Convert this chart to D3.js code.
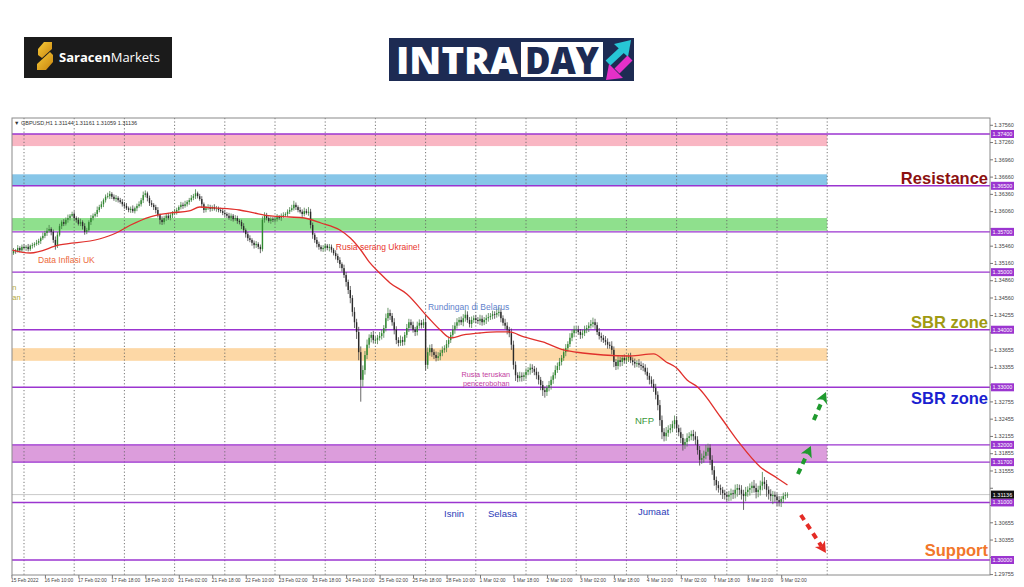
<!DOCTYPE html>
<html><head><meta charset="utf-8">
<script src="https://cdn.jsdelivr.net/npm/d3@7/dist/d3.min.js"></script>
<style>body{margin:0;background:#fff}svg{display:block}</style>
</head><body>
<svg id="c" width="1024" height="587"></svg>
<script>
// ---------------- DATA ----------------
const symbolHeader = "\u25BC GBPUSD,H1  1.31144 1.31161 1.31059 1.31136";
const firstOpen = 1.3530;
// H1 closes, 15 Feb 18:00 .. 9 Mar 05:00
const closes = [
1.3533,1.3538,1.3537,1.3542,1.3538,1.3544,
1.3542,1.3544,1.3540,1.3546,1.3547,1.3549,1.3551,1.3554,1.3559,1.3563,1.3568,1.3572,1.3575,1.3570,1.3556,1.3546,1.3565,1.3580,1.3587,1.3584,1.3591,1.3594,1.3598,1.3601,
1.3594,1.3591,1.3584,1.3587,1.3580,1.3570,1.3573,1.3587,1.3594,1.3598,1.3601,1.3608,1.3613,1.3618,1.3625,1.3631,1.3632,1.3636,1.3631,1.3627,1.3629,1.3625,1.3622,1.3618,
1.3615,1.3611,1.3608,1.3610,1.3606,1.3611,1.3615,1.3618,1.3625,1.3634,1.3637,1.3629,1.3620,1.3617,1.3613,1.3608,1.3599,1.3591,1.3587,1.3594,1.3598,1.3594,1.3599,1.3603,
1.3605,1.3608,1.3613,1.3617,1.3615,1.3618,1.3622,1.3625,1.3629,1.3632,1.3637,1.3632,1.3627,1.3618,1.3608,1.3611,1.3613,1.3610,1.3613,1.3610,1.3611,1.3608,1.3606,1.3603,
1.3601,1.3598,1.3594,1.3598,1.3592,1.3594,1.3589,1.3587,1.3580,1.3573,1.3566,1.3559,1.3556,1.3551,1.3547,1.3549,1.3544,1.3540,1.3591,1.3599,1.3594,1.3589,1.3592,1.3591,
1.3592,1.3596,1.3594,1.3598,1.3599,1.3601,1.3605,1.3608,1.3611,1.3617,1.3613,1.3608,1.3605,1.3601,1.3606,1.3603,1.3605,1.3582,1.3565,1.3556,1.3549,1.3544,1.3540,1.3542,
1.3546,1.3542,1.3544,1.3539,1.3533,1.3528,1.3521,1.3514,1.3507,1.3495,1.3483,1.3469,1.3455,1.3431,1.3413,1.3396,1.3361,1.3313,1.3330,1.3356,1.3374,1.3386,1.3391,1.3382,
1.3382,1.3386,1.3389,1.3394,1.3403,1.3420,1.3429,1.3424,1.3413,1.3400,1.3382,1.3377,1.3382,1.3379,1.3391,1.3403,1.3413,1.3408,1.3400,1.3396,1.3407,1.3412,1.3408,1.3413,
1.3339,1.3361,1.3368,1.3361,1.3356,1.3351,1.3354,1.3360,1.3365,1.3368,1.3375,1.3382,1.3391,1.3400,1.3407,1.3413,1.3417,1.3413,1.3420,1.3426,1.3417,1.3410,1.3417,1.3420,
1.3417,1.3415,1.3419,1.3413,1.3417,1.3420,1.3422,1.3424,1.3427,1.3426,1.3429,1.3431,1.3420,1.3412,1.3407,1.3400,1.3394,1.3374,1.3339,1.3321,1.3316,1.3320,1.3318,1.3321,
1.3327,1.3330,1.3334,1.3332,1.3327,1.3321,1.3313,1.3304,1.3295,1.3292,1.3299,1.3304,1.3313,1.3321,1.3330,1.3337,1.3344,1.3351,1.3361,1.3368,1.3375,1.3386,1.3394,1.3400,
1.3400,1.3396,1.3391,1.3394,1.3400,1.3403,1.3407,1.3410,1.3413,1.3408,1.3396,1.3389,1.3386,1.3382,1.3379,1.3374,1.3372,1.3365,1.3344,1.3337,1.3347,1.3344,1.3351,1.3347,
1.3351,1.3353,1.3347,1.3344,1.3341,1.3342,1.3339,1.3337,1.3334,1.3327,1.3320,1.3313,1.3306,1.3299,1.3287,1.3269,1.3243,1.3222,1.3215,1.3221,1.3226,1.3229,1.3236,1.3243,
1.3229,1.3222,1.3212,1.3200,1.3205,1.3212,1.3215,1.3219,1.3215,1.3209,1.3191,1.3174,1.3177,1.3181,1.3188,1.3195,1.3174,1.3156,1.3139,1.3130,1.3125,1.3122,1.3116,1.3113,
1.3110,1.3113,1.3116,1.3115,1.3122,1.3125,1.3122,1.3115,1.3111,1.3118,1.3122,1.3125,1.3129,1.3125,1.3118,1.3122,1.3129,1.3136,1.3132,1.3122,1.3115,1.3111,1.3113,1.3110,
1.3104,1.3101,1.3106,1.3111,1.3113,1.31136];
// upper / lower wick lengths in pips
const wickUp = [
3,4,2,5,3,4,
4,3,5,2,4,3,5,4,3,6,4,5,7,3,4,6,5,4,3,5,4,6,3,4,
5,3,4,6,3,5,4,3,5,4,3,6,4,5,3,4,6,5,3,4,5,3,4,5,
4,5,3,4,6,3,4,5,4,6,5,3,4,5,3,4,5,3,6,4,3,5,4,3,
5,4,3,5,4,6,3,4,5,4,7,3,4,5,3,4,5,4,3,5,4,3,4,5,
4,3,5,4,3,5,4,3,4,5,3,4,5,3,4,5,3,4,6,5,4,3,5,4,
4,5,3,4,5,3,4,5,6,7,4,3,5,4,6,4,8,5,4,3,5,4,3,5,
4,3,5,4,3,5,4,5,3,6,5,4,7,5,8,6,9,10,8,7,9,6,5,7,
6,5,7,6,5,8,9,6,5,7,6,5,8,6,5,7,6,5,6,5,7,6,5,6,
12,8,6,7,5,6,7,5,6,5,7,6,5,8,6,7,5,6,7,8,6,5,6,5,
6,5,7,6,5,6,7,5,6,5,7,8,6,5,7,6,5,8,7,6,5,7,6,5,
6,5,7,6,5,7,6,5,7,6,5,7,6,5,8,6,7,5,6,7,5,8,6,7,
6,7,5,6,7,5,6,7,8,6,5,7,6,5,7,6,5,8,6,5,7,6,5,6,
5,6,7,5,6,5,7,6,5,6,7,5,6,8,7,6,9,8,7,10,8,7,6,8,
7,6,8,7,6,8,7,6,7,8,6,7,8,9,12,7,6,8,7,6,7,6,5,6,
6,7,8,6,9,7,6,8,7,9,6,8,7,10,8,7,9,17,8,7,6,8,7,6,
6,7,5,6,5,4];
const wickDn = [
4,3,5,3,4,3,
3,5,4,3,5,4,3,4,5,3,4,5,3,6,5,7,4,3,5,4,3,5,4,3,
4,5,3,4,6,5,4,3,5,4,3,5,4,3,5,4,3,5,4,3,5,4,3,4,
5,3,4,5,3,4,5,3,4,5,4,6,5,4,5,6,4,8,5,4,5,3,4,5,
4,5,3,4,5,3,4,5,3,4,5,4,3,6,5,4,3,5,4,3,5,4,3,4,
5,4,3,5,4,3,5,4,5,4,6,5,4,5,6,5,4,7,4,5,4,3,5,4,
5,4,3,5,4,3,5,4,3,4,5,4,3,5,4,3,5,6,7,5,6,5,4,5,
5,4,6,5,4,6,5,7,6,5,8,7,9,8,10,12,14,38,12,8,7,6,8,6,
6,7,5,6,8,6,5,7,6,8,7,6,5,7,6,5,7,6,5,7,6,5,6,5,
10,7,6,8,7,6,5,7,6,5,7,6,5,6,7,5,6,5,7,6,5,6,7,5,
6,5,7,6,5,7,6,5,6,7,5,6,7,5,6,8,7,9,8,10,7,6,8,7,
7,6,8,7,6,7,8,9,10,10,7,6,8,7,6,5,7,6,5,7,6,5,6,7,
6,5,7,6,5,6,7,5,6,7,5,6,7,5,6,7,5,8,9,7,6,8,7,6,
6,7,5,6,7,6,5,7,6,5,7,8,6,7,8,9,10,12,9,8,7,6,7,8,
8,7,9,10,7,8,6,7,8,9,8,10,7,8,6,7,9,8,10,9,8,9,10,8,
9,8,10,9,8,12,9,10,24,9,8,10,9,8,11,9,10,8,9,12,10,9,14,9,
10,8,9,7,6,5];
const visibleBars = 468;
const xLabels = ["15 Feb 2022","16 Feb 10:00","17 Feb 02:00","17 Feb 18:00","18 Feb 10:00","21 Feb 02:00",
 "21 Feb 18:00","22 Feb 10:00","23 Feb 02:00","23 Feb 18:00","24 Feb 10:00","25 Feb 02:00","25 Feb 18:00",
 "28 Feb 10:00","1 Mar 02:00","1 Mar 18:00","2 Mar 10:00","3 Mar 02:00","3 Mar 18:00","4 Mar 10:00",
 "7 Mar 02:00","7 Mar 18:00","8 Mar 10:00","9 Mar 02:00"];
const xLabelBars = xLabels.map((d,i)=>i*16);
const daySeparators = [6,30,54,78,102,126,150,174,198,222,246,270,294,318,342,366,390];
const yTicks = [1.37560,1.37260,1.36960,1.36660,1.36360,1.36060,1.35760,1.35460,1.35160,1.34860,1.34560,
 1.34255,1.33955,1.33655,1.33355,1.33050,1.32755,1.32455,1.32155,1.31855,1.31555,1.31255,1.30955,1.30655,
 1.30355,1.30055,1.29755];
const priceMin = 1.297394, priceMax = 1.376779;
const levels = [1.3740,1.3650,1.3570,1.3500,1.3400,1.3300,1.3200,1.3170,1.3100,1.3000];
const bandLow  = [1.3719,1.3650,1.3572,1.3346,1.3170];
const bandHigh = [1.3740,1.3670,1.3594,1.3368,1.3200];
const bandEndBar = 390;
const currentPrice = 1.31136;
// moving average
const maBars = [0,9,23,42,50,57,66,76,85,90,97,109,116,124,133,140,148,157,162,167,171,176,181,189,199,205,210,216,224,232,238,245,254,264,273,283,296,307,313,318,323,328,339,348,358,366,371];
const maVals = [1.35385,1.35333,1.35472,1.35576,1.35680,1.35819,1.35958,1.36028,1.36063,1.36132,1.36115,1.36080,1.36028,1.35976,1.35958,1.35941,1.35854,1.35732,1.35594,1.35385,1.35177,1.34986,1.34812,1.34621,1.34221,1.33995,1.33857,1.33909,1.33943,1.33961,1.33961,1.33874,1.33787,1.33648,1.33596,1.33561,1.33544,1.33579,1.33440,1.33335,1.33127,1.33005,1.32484,1.32033,1.31616,1.31425,1.31303];
// annotations (text, bar, price)
const noteText  = ["Data Inflasi UK","n","an","Rusia serang Ukraine!","Rundingan di Belarus","Rusia teruskan","pencerobohan","NFP","Isnin","Selasa","Jumaat"];
const noteBar   = [12.7,0.4,0.4,155.1,199.1,226.8,227.0,298.1,206.8,227.8,299.5];
const notePrice = [1.35159,1.34690,1.34517,1.35385,1.34343,1.33175,1.33014,1.32363,1.30747,1.30747,1.30782];
const zoneText  = ["Resistance","SBR zone","SBR zone","Support"];
const zonePrice = [1.36532,1.34030,1.32710,1.30070];
// hand-drawn arrows [bar0, price0, bar1, price1]
const arrowsUp = [[376.0,1.31494,382.2,1.31981],[383.6,1.32432,389.4,1.32919]];
const arrowsDown = [[377.4,1.30782,389.4,1.30122]];

// ---------------- DRAW ----------------
const svg = d3.select("#c");
const P = {l:12, r:990, t:118, b:575};
const x = d3.scaleLinear().domain([0, visibleBars]).range([11.45, 11.45 + visibleBars*2.0917]);
const y = d3.scaleLinear().domain([priceMin, priceMax]).range([P.b, P.t]);
const FONT = "'Liberation Sans', Arial, sans-serif";

// logos
const lg = svg.append("g");
lg.append("rect").attr("x",24).attr("y",37).attr("width",148).attr("height",41).attr("fill","#1b1b1b");
const gold = svg.append("defs").append("linearGradient").attr("id","gold").attr("x1",0).attr("y1",0).attr("x2",1).attr("y2",1);
gold.append("stop").attr("offset","0").attr("stop-color","#f7cc3a");
gold.append("stop").attr("offset","1").attr("stop-color","#c9840e");
lg.append("path").attr("d","M44,42 L52,42 L52,49 L42,58 L38,55 L38,49 Z").attr("fill","url(#gold)");
lg.append("path").attr("d","M50,52 L53,55 L53,62 L46,70 L37,70 L37,64 Z").attr("fill","url(#gold)");
const st = lg.append("text").attr("x",59).attr("y",62).attr("font-family","'Open Sans', sans-serif").attr("font-size",13).attr("fill","#fff");
st.append("tspan").attr("font-weight",700).text("Saracen");
st.append("tspan").attr("font-weight",400).text("Markets");

lg.append("rect").attr("x",389).attr("y",38).attr("width",245).attr("height",43).attr("fill","#1d2b53");
lg.append("text").attr("x",396).attr("y",74).attr("font-family","'Open Sans', sans-serif").attr("font-weight",800)
  .attr("font-size",37).attr("fill","#fff").attr("textLength",122).attr("lengthAdjust","spacingAndGlyphs").text("INTRA");
lg.append("rect").attr("x",521).attr("y",42).attr("width",82).attr("height",35).attr("fill","#fff");
lg.append("text").attr("x",525).attr("y",74).attr("font-family","'Open Sans', sans-serif").attr("font-weight",800)
  .attr("font-size",37).attr("fill","#1d2b53").attr("textLength",74).attr("lengthAdjust","spacingAndGlyphs").text("DAY");
lg.append("line").attr("x1",608).attr("y1",63).attr("x2",622).attr("y2",50).attr("stroke","#27c6d6").attr("stroke-width",7);
lg.append("path").attr("d","M614,44 L631,40 L628,57 Z").attr("fill","#27c6d6");
lg.append("line").attr("x1",630).attr("y1",58).attr("x2",617).attr("y2",71).attr("stroke","#e530c8").attr("stroke-width",7);
lg.append("path").attr("d","M623,78 L606,80 L609,64 Z").attr("fill","#e530c8");

// plot
const defs = svg.select("defs");
defs.append("clipPath").attr("id","clip").append("rect").attr("x",P.l).attr("y",P.t).attr("width",P.r-P.l).attr("height",P.b-P.t);
const plot = svg.append("g").attr("clip-path","url(#clip)");

const bandColors = ["#f9b6c3","#87c6e8","#8fe08d","#fdd8a6","#dc9ddc"];
plot.selectAll("rect.band").data(bandLow).join("rect").attr("class","band")
  .attr("x",P.l).attr("width",x(bandEndBar)-P.l)
  .attr("y",(d,i)=>y(bandHigh[i])).attr("height",(d,i)=>y(d)-y(bandHigh[i]))
  .attr("fill",(d,i)=>bandColors[i]);

plot.selectAll("line.sep").data(daySeparators).join("line").attr("class","sep")
  .attr("x1",d=>x(d)).attr("x2",d=>x(d)).attr("y1",P.t).attr("y2",P.b)
  .attr("stroke","#666").attr("stroke-width",0.9).attr("stroke-dasharray","1.2,2.2");

plot.append("line").attr("x1",P.l).attr("x2",P.r).attr("y1",y(currentPrice)).attr("y2",y(currentPrice))
  .attr("stroke","#c9c9c9").attr("stroke-width",1);

plot.selectAll("line.lvl").data(levels).join("line").attr("class","lvl")
  .attr("x1",P.l).attr("x2",P.r).attr("y1",d=>y(d)).attr("y2",d=>y(d))
  .attr("stroke","#9b35d0").attr("stroke-width",1.4);

// candles
const candles = closes.map((c,i)=>{
  const o = i===0 ? firstOpen : closes[i-1];
  return {i, o, c, h: Math.max(o,c)+wickUp[i]*1e-4, l: Math.min(o,c)-wickDn[i]*1e-4};
});
const cg = plot.append("g");
cg.selectAll("line.wick").data(candles).join("line").attr("class","wick")
  .attr("x1",d=>x(d.i)).attr("x2",d=>x(d.i)).attr("y1",d=>y(d.h)).attr("y2",d=>y(d.l))
  .attr("stroke",d=>d.c>=d.o?"#4a7f4a":"#444").attr("stroke-width",0.8);
cg.selectAll("rect.body").data(candles).join("rect").attr("class","body")
  .attr("x",d=>x(d.i)-0.7).attr("width",1.4)
  .attr("y",d=>y(Math.max(d.o,d.c))).attr("height",d=>Math.max(0.8,Math.abs(y(d.o)-y(d.c))))
  .attr("fill",d=>d.c>=d.o?"#2f8a2f":"#2a2a2a");

// MA
const ma = maBars.map((b,i)=>[b,maVals[i]]);
plot.append("path").datum(ma)
  .attr("d",d3.line().x(d=>x(d[0])).y(d=>y(d[1])).curve(d3.curveMonotoneX))
  .attr("fill","none").attr("stroke","#e0302c").attr("stroke-width",1.3);

// annotations
const noteColors = ["#ec6a3a","#b5a830","#b5a830","#e8342c","#5f82cc","#c33ca0","#c33ca0","#3a983a","#2b3bb8","#2b3bb8","#2b3bb8"];
const noteAnchor = ["start","start","start","start","start","middle","middle","start","start","start","start"];
const noteSize = [8.5,7.5,7.5,8.5,8.5,7.3,7.3,9.5,9.5,9.5,9.5];
plot.selectAll("text.note").data(noteText).join("text").attr("class","note")
  .attr("x",(d,i)=>x(noteBar[i])).attr("y",(d,i)=>y(notePrice[i]))
  .attr("text-anchor",(d,i)=>noteAnchor[i])
  .attr("font-family",FONT).attr("font-size",(d,i)=>noteSize[i]).attr("fill",(d,i)=>noteColors[i]).text(d=>d);

const zoneColors = ["#8b1010","#a09a12","#1b1fd0","#f2762a"];
svg.selectAll("text.zone").data(zoneText).join("text").attr("class","zone")
  .attr("x",988).attr("y",(d,i)=>y(zonePrice[i])).attr("text-anchor","end")
  .attr("font-family",FONT).attr("font-weight",700).attr("font-size",16.5)
  .attr("fill",(d,i)=>zoneColors[i]).text(d=>d);

// arrows
function drawArrow(a,color){
  const x0=x(a[0]),y0=y(a[1]),x1=x(a[2]),y1=y(a[3]);
  const ang=Math.atan2(y1-y0,x1-x0), L=Math.hypot(x1-x0,y1-y0);
  const g=svg.append("g").attr("transform",`translate(${x0},${y0}) rotate(${ang*180/Math.PI})`);
  g.append("line").attr("x1",0).attr("y1",0).attr("x2",L-8).attr("y2",0)
    .attr("stroke",color).attr("stroke-width",4).attr("stroke-dasharray","6,5");
  g.append("path").attr("d",`M${L},0 L${L-11},-6 L${L-8},0 L${L-11},6 Z`).attr("fill",color);
}
arrowsUp.forEach(a=>drawArrow(a,"#1f9a2e"));
arrowsDown.forEach(a=>drawArrow(a,"#e42b25"));

// frame
svg.append("rect").attr("x",P.l).attr("y",P.t).attr("width",P.r-P.l).attr("height",P.b-P.t)
  .attr("fill","none").attr("stroke","#8a8a8a").attr("stroke-width",1);
svg.append("text").attr("x",14).attr("y",124.5).attr("font-family",FONT).attr("font-size",5.5).attr("fill","#333").text(symbolHeader);

// y axis (labels hidden under level tags are skipped, as in the terminal)
const tagPrices = levels.concat([currentPrice]);
const shownTicks = yTicks.filter(t => tagPrices.every(p => Math.abs(y(t)-y(p)) > 7.5));
const ya = svg.append("g").attr("transform",`translate(${P.r},0)`)
  .call(d3.axisRight(y).tickValues(yTicks).tickFormat(d=>shownTicks.includes(d)?d3.format(".5f")(d):"").tickSize(3).tickPadding(1));
ya.select(".domain").remove();
ya.selectAll("line").attr("stroke","#777");
ya.selectAll("text").attr("font-family",FONT).attr("font-size",5.5).attr("fill","#444");

// x axis
const xa = svg.append("g").attr("transform",`translate(0,${P.b})`)
  .call(d3.axisBottom(x).tickValues(xLabelBars).tickFormat((d,i)=>xLabels[i]).tickSize(3).tickPadding(1));
xa.select(".domain").remove();
xa.selectAll("line").attr("stroke","#777");
xa.selectAll("text").attr("text-anchor","start").attr("dx","-1")
  .attr("font-family",FONT).attr("font-size",4.9).attr("fill","#444");

// level tags
const tags = svg.append("g");
tags.selectAll("rect").data(levels).join("rect")
  .attr("x",P.r+1).attr("width",23).attr("y",d=>y(d)-4).attr("height",8).attr("fill","#9b35d0");
tags.selectAll("text").data(levels).join("text")
  .attr("x",P.r+12.5).attr("y",d=>y(d)+2).attr("text-anchor","middle")
  .attr("font-family",FONT).attr("font-size",5.5).attr("fill","#fff").text(d=>d3.format(".5f")(d));
tags.append("rect").attr("x",P.r+1).attr("width",23).attr("y",y(currentPrice)-4).attr("height",8).attr("fill","#111");
tags.append("text").attr("x",P.r+12.5).attr("y",y(currentPrice)+2).attr("text-anchor","middle")
  .attr("font-family",FONT).attr("font-size",5.5).attr("fill","#fff").text(d3.format(".5f")(currentPrice));
</script>
</body></html>
